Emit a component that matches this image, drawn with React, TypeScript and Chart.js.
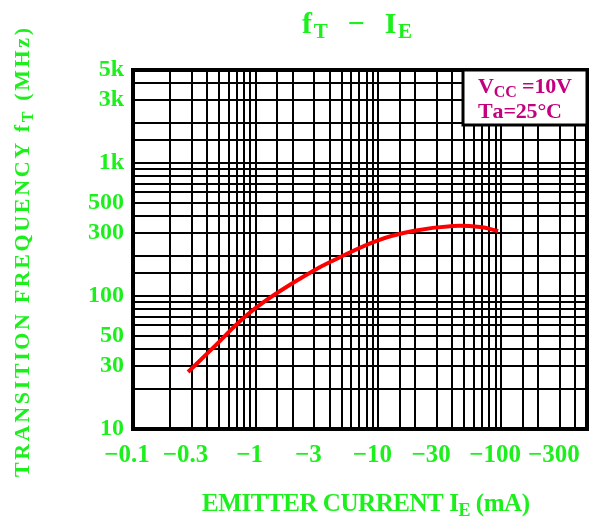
import React, { useEffect, useRef } from 'react';
import { Chart, registerables } from 'chart.js';

Chart.register(...registerables);

// Emitter current |IE| in mA (axis labels are shown negative)
const emitterCurrent = [0.281, 0.484, 0.717, 1.025, 1.58, 2.93, 4.03, 9.55, 19.1, 40.5, 67.3, 94.4];
// Transition frequency fT in MHz
const transitionFreq = [26.8, 43.6, 62.7, 82.7, 109, 154, 180, 259, 308, 336, 330, 308];

const xTickValues = [0.1, 0.3, 1, 3, 10, 30, 100, 300];
const xTickLabels = ['−0.1', '−0.3', '−1', '−3', '−10', '−30', '−100', '−300'];
const yTickValues = [10, 30, 50, 100, 300, 500, 1000, 3000, 5000];
const yTickLabels = ['10', '30', '50', '100', '300', '500', '1k', '3k', '5k'];

const X_MIN = 0.1;
const X_MAX = 500;
const Y_MIN = 10;
const Y_MAX = 5000;

const GREEN = '#1cf01c';
const MAGENTA = '#c4007e';
const FONT = '"Liberation Serif", "DejaVu Serif", serif';

type Run = { t: string; s: number; dy?: number };

function lookupLabel(v: number, values: number[], labels: string[]): string {
  for (let i = 0; i < values.length; i++) {
    if (Math.abs(v - values[i]) / values[i] < 1e-6) return labels[i];
  }
  return '';
}

function drawFitted(ctx: CanvasRenderingContext2D, runs: Run[], x0: number, x1: number, baseline: number) {
  const chars: { c: string; s: number; dy: number; w: number }[] = [];
  for (const r of runs) {
    ctx.font = `bold ${r.s}px ${FONT}`;
    for (const c of Array.from(r.t)) {
      chars.push({ c, s: r.s, dy: r.dy || 0, w: ctx.measureText(c).width });
    }
  }
  const natural = chars.reduce((a, b) => a + b.w, 0);
  const extra = chars.length > 1 ? (x1 - x0 - natural) / (chars.length - 1) : 0;
  let x = x0;
  ctx.textAlign = 'left';
  ctx.textBaseline = 'alphabetic';
  for (const ch of chars) {
    ctx.font = `bold ${ch.s}px ${FONT}`;
    ctx.fillText(ch.c, x, baseline + ch.dy);
    x += ch.w + extra;
  }
}

const annotPlugin = {
  id: 'annot',
  afterDraw(chart: any) {
    const ctx: CanvasRenderingContext2D = chart.ctx;
    const { left, top, right, bottom } = chart.chartArea;
    ctx.save();
    // frame
    ctx.strokeStyle = '#000';
    ctx.lineWidth = 4;
    ctx.strokeRect(left, top, right - left, bottom - top);

    // condition box
    const bx = 463;
    const bh = 55;
    ctx.fillStyle = '#fff';
    ctx.fillRect(bx, top, right - bx, bh);
    ctx.lineWidth = 3;
    ctx.strokeRect(bx, top, right - bx, bh);
    ctx.fillStyle = MAGENTA;
    drawFitted(ctx, [{ t: 'V', s: 22 }, { t: 'CC', s: 16, dy: 4 }, { t: ' =10V', s: 22 }], 478, 572, 93);
    drawFitted(ctx, [{ t: 'Ta=25°C', s: 22 }], 478, 562, 118);

    // title
    ctx.fillStyle = GREEN;
    drawFitted(ctx, [{ t: 'f', s: 30 }, { t: 'T', s: 21, dy: 5 }, { t: '  −  ', s: 30 }, { t: 'I', s: 30 }, { t: 'E', s: 21, dy: 5 }], 302, 412, 33);

    // x axis title
    drawFitted(ctx, [{ t: 'EMITTER CURRENT I', s: 25 }, { t: 'E', s: 18, dy: 5 }, { t: ' (mA)', s: 25 }], 202, 530, 511);

    // y axis title
    ctx.save();
    ctx.translate(29, 477);
    ctx.rotate(-Math.PI / 2);
    drawFitted(ctx, [{ t: 'TRANSITION FREQUENCY f', s: 22 }, { t: 'T', s: 16, dy: 4 }, { t: ' (MHz)', s: 22 }], 0, 449, 0);
    ctx.restore();

    ctx.restore();
  },
};

export default function App() {
  const canvasRef = useRef<HTMLCanvasElement | null>(null);

  useEffect(() => {
    if (!canvasRef.current) return;
    const chart = new Chart(canvasRef.current, {
      type: 'line',
      data: {
        datasets: [
          {
            data: emitterCurrent.map((x, i) => ({ x, y: transitionFreq[i] })),
            borderColor: '#ff0000',
            borderWidth: 4,
            pointRadius: 0,
            fill: false,
            tension: 0.4,
          },
        ],
      },
      options: {
        responsive: false,
        animation: false,
        events: [],
        layout: { padding: { top: 70, right: 15, left: 0, bottom: 0 } },
        plugins: {
          legend: { display: false },
          tooltip: { enabled: false },
          title: { display: false },
        },
        scales: {
          x: {
            type: 'logarithmic',
            min: X_MIN,
            max: X_MAX,
            border: { display: false },
            grid: { color: '#000', lineWidth: 2, drawTicks: false },
            ticks: {
              autoSkip: false,
              maxRotation: 0,
              minRotation: 0,
              padding: 12,
              labelOffset: -6,
              color: GREEN,
              font: { family: FONT, size: 25, weight: 'bold' },
              callback: (v: any) => lookupLabel(Number(v), xTickValues, xTickLabels),
            },
            afterFit: (s: any) => {
              s.height = 88;
            },
          },
          y: {
            type: 'logarithmic',
            min: Y_MIN,
            max: Y_MAX,
            border: { display: false },
            grid: { color: '#000', lineWidth: 2, drawTicks: false },
            ticks: {
              autoSkip: false,
              padding: 9,
              color: GREEN,
              font: { family: FONT, size: 24, weight: 'bold' },
              callback: (v: any) => lookupLabel(Number(v), yTickValues, yTickLabels),
            },
            afterFit: (s: any) => {
              s.width = 133;
            },
          },
        },
      },
      plugins: [annotPlugin],
    } as any);
    return () => chart.destroy();
  }, []);

  return (
    <div style={{ position: 'absolute', left: 0, top: 0, width: 602, height: 517, background: '#fff' }}>
      <canvas ref={canvasRef} width={602} height={517} />
    </div>
  );
}
